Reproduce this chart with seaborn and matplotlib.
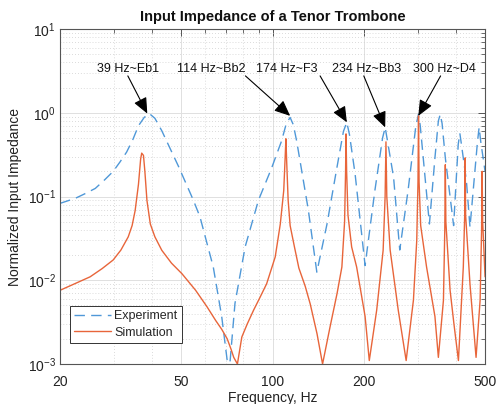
import numpy as np
import pandas as pd
import matplotlib
matplotlib.use("Agg")
import matplotlib.pyplot as plt
import matplotlib.ticker as mticker
import seaborn as sns

exp_freq = [20, 22.4, 24, 26.1, 28, 29.9, 31.5, 33.1, 34.7, 36.2, 37.8, 39.3, 41, 43.2, 49,
            54.9, 57.7, 63.8, 68, 70.9, 71.5, 72.5, 75.2, 81.2, 89.8, 99.3, 107, 111, 114.2,
            117, 120, 131, 139.8, 151, 162.7, 171, 175.4, 179, 186.8, 201.5, 217, 230,
            234.6, 239, 250, 262, 279, 296, 302, 306, 313, 328, 342, 351, 356, 361,
            370, 394, 408, 413, 418, 434, 446, 472, 478, 484, 500]
exp_imp = [0.083, 0.095, 0.107, 0.125, 0.158, 0.2, 0.26, 0.34, 0.48, 0.7, 0.88, 0.98, 0.86,
           0.61, 0.23, 0.09, 0.057, 0.0144, 0.0037, 0.0011, 0.0008, 0.0011, 0.0053, 0.025, 0.09,
           0.22, 0.46, 0.75, 0.88, 0.72, 0.46, 0.07, 0.0125, 0.047, 0.22, 0.6, 0.77, 0.55, 0.186,
           0.015, 0.118, 0.5, 0.67, 0.45, 0.17, 0.023, 0.118, 0.7, 0.96, 0.7, 0.29, 0.047, 0.29,
           0.8, 0.96, 0.75, 0.29, 0.045, 0.42, 0.57, 0.42, 0.155, 0.043, 0.45, 0.67, 0.45, 0.2]

# Simulated (solid) input impedance
sim_freq = [20, 22.5, 25.1, 27.5, 29.9, 31.7, 33.5, 34.5, 35.3, 36.2, 36.8, 37.1, 37.6, 38.0,
            38.6, 39.6, 41, 43.2, 46.5, 50.3, 55.8, 60.9, 65, 68, 70.9, 73, 74.5, 76.6, 79.2,
            82.5, 86.6, 91, 95.6, 102, 106, 108.8, 110.0, 110.6, 111.3, 112.5, 114.2, 118,
            122, 128, 133, 140, 146, 154.6, 163, 169, 172.5, 173.8, 174.4, 175.2, 177, 182,
            189, 201.5, 208, 220, 231, 234.5, 236, 237.5, 243.6, 259, 275, 290.6, 298, 300.8,
            302, 303.3, 307, 321, 342, 351, 364.8, 368.5, 370, 371.5, 383.6, 395, 408.6, 424,
            428.5, 430, 431.5, 446, 467, 481.6, 487, 489, 491, 500]
sim_imp = [0.0076, 0.0092, 0.011, 0.0138, 0.0175, 0.023, 0.033, 0.045, 0.068, 0.14, 0.28,
           0.33, 0.31, 0.2, 0.09, 0.047, 0.033, 0.0228, 0.016, 0.012, 0.0076, 0.0048, 0.0033,
           0.0026, 0.002, 0.0015, 0.0012, 0.001, 0.0021, 0.003, 0.0044, 0.0063, 0.0091, 0.019,
           0.047, 0.118, 0.3, 0.49, 0.25, 0.09, 0.045, 0.025, 0.014, 0.0085, 0.0052, 0.0023,
           0.001, 0.0028, 0.007, 0.0144, 0.05, 0.2, 0.56, 0.2, 0.06, 0.025, 0.0144, 0.0037,
           0.0011, 0.0044, 0.0228, 0.1, 0.45, 0.1, 0.023, 0.0044, 0.0011, 0.0058, 0.03, 0.15,
           0.92, 0.15, 0.045, 0.0144, 0.0037, 0.0012, 0.0058, 0.04, 0.24, 0.05, 0.0076, 0.003,
           0.0011, 0.0144, 0.06, 0.29, 0.06, 0.009, 0.0012, 0.0058, 0.04, 0.2, 0.05, 0.011]

# Peak labels: arrow head at the measured peak, tail under the text
note_labels = ["39 Hz~Eb1", "114 Hz~Bb2", "174 Hz~F3", "234 Hz~Bb3", "300 Hz~D4"]
note_freq = [38.7, 114.2, 175.5, 234.6, 301.6]
note_imp = [0.98, 0.92, 0.77, 0.67, 0.92]
note_tail_freq = [33.4, 81.4, 143.3, 199.5, 357]
note_text_freq = [33.5, 62.7, 111, 203, 367.6]
note_tail_imp = 2.76
note_text_imp = 3.35

x_ticks = [20, 50, 100, 200, 500]

BLUE = "#4f98d8"
ORANGE = "#e8653a"

sns.set_theme(style="white")
plt.rcParams['font.family'] = ['Liberation Sans', 'DejaVu Sans']
plt.rcParams['mathtext.default'] = 'regular'

df_exp = pd.DataFrame({'freq': exp_freq, 'imp': exp_imp})
df_sim = pd.DataFrame({'freq': sim_freq, 'imp': sim_imp})

fig = plt.figure(figsize=(4.97, 4.04), dpi=100)
ax = fig.add_axes([0.121, 0.099, 0.855, 0.829])

sns.lineplot(data=df_exp, x='freq', y='imp', ax=ax, color=BLUE, lw=1.0,
             linestyle=(0, (7.5, 4.5)), label='Experiment', sort=False)
sns.lineplot(data=df_sim, x='freq', y='imp', ax=ax, color=ORANGE, lw=1.0,
             label='Simulation', sort=False)

ax.set_xscale('log')
ax.set_yscale('log')
ax.set_xlim(20, 500)
ax.set_ylim(1e-3, 10)

ax.xaxis.set_major_locator(mticker.FixedLocator(x_ticks))
ax.xaxis.set_major_formatter(mticker.FixedFormatter([str(t) for t in x_ticks]))
ax.xaxis.set_minor_locator(mticker.LogLocator(base=10, subs=np.arange(2, 10)))
ax.xaxis.set_minor_formatter(mticker.NullFormatter())
ax.yaxis.set_major_locator(mticker.LogLocator(base=10, numticks=10))
ax.yaxis.set_minor_locator(mticker.LogLocator(base=10, subs=np.arange(2, 10), numticks=20))
ax.yaxis.set_minor_formatter(mticker.NullFormatter())

# MATLAB-like grid and box
ax.grid(True, which='major', color='#e0e0e0', lw=0.7, ls='-')
ax.grid(True, which='minor', color='#cfcfcf', lw=0.6, ls=(0, (1, 2.5)))
ax.set_axisbelow(True)
for sp in ax.spines.values():
    sp.set_color('#555555')
    sp.set_linewidth(0.8)
ax.tick_params(which='both', direction='in', top=True, right=True, colors='#555555',
               labelcolor='#222222', labelsize=10)
ax.tick_params(which='major', length=5, width=0.7)
ax.tick_params(which='minor', length=3, width=0.6)
ax.tick_params(axis='x', pad=8)
ax.tick_params(axis='y', pad=3)

ax.set_title('Input Impedance of a Tenor Trombone', fontsize=10.5, fontweight='bold',
             color='#111111', pad=6)
ax.set_xlabel('Frequency, Hz', fontsize=10, color='#222222', labelpad=1)
ax.set_ylabel('Normalized Input Impedance', fontsize=10, color='#222222', labelpad=4)

for lab, hf, hv, tf, xf in zip(note_labels, note_freq, note_imp, note_tail_freq, note_text_freq):
    ax.annotate('', xy=(hf, hv), xytext=(tf, note_tail_imp),
                arrowprops=dict(arrowstyle='-|>,head_length=0.8,head_width=0.35',
                                color='black', lw=0.8, shrinkA=0, shrinkB=0))
    ax.text(xf, note_text_imp, lab, ha='center', va='center', fontsize=9, color='#111111')

leg = ax.legend(loc='lower left', bbox_to_anchor=(0.023, 0.063), fontsize=9,
                frameon=True, fancybox=False, edgecolor='#333333', framealpha=1,
                handlelength=2.9, borderpad=0.35, labelspacing=0.35, handletextpad=0.3,
                borderaxespad=0)
leg.get_frame().set_linewidth(0.7)

fig.savefig('out.png', dpi=100)
